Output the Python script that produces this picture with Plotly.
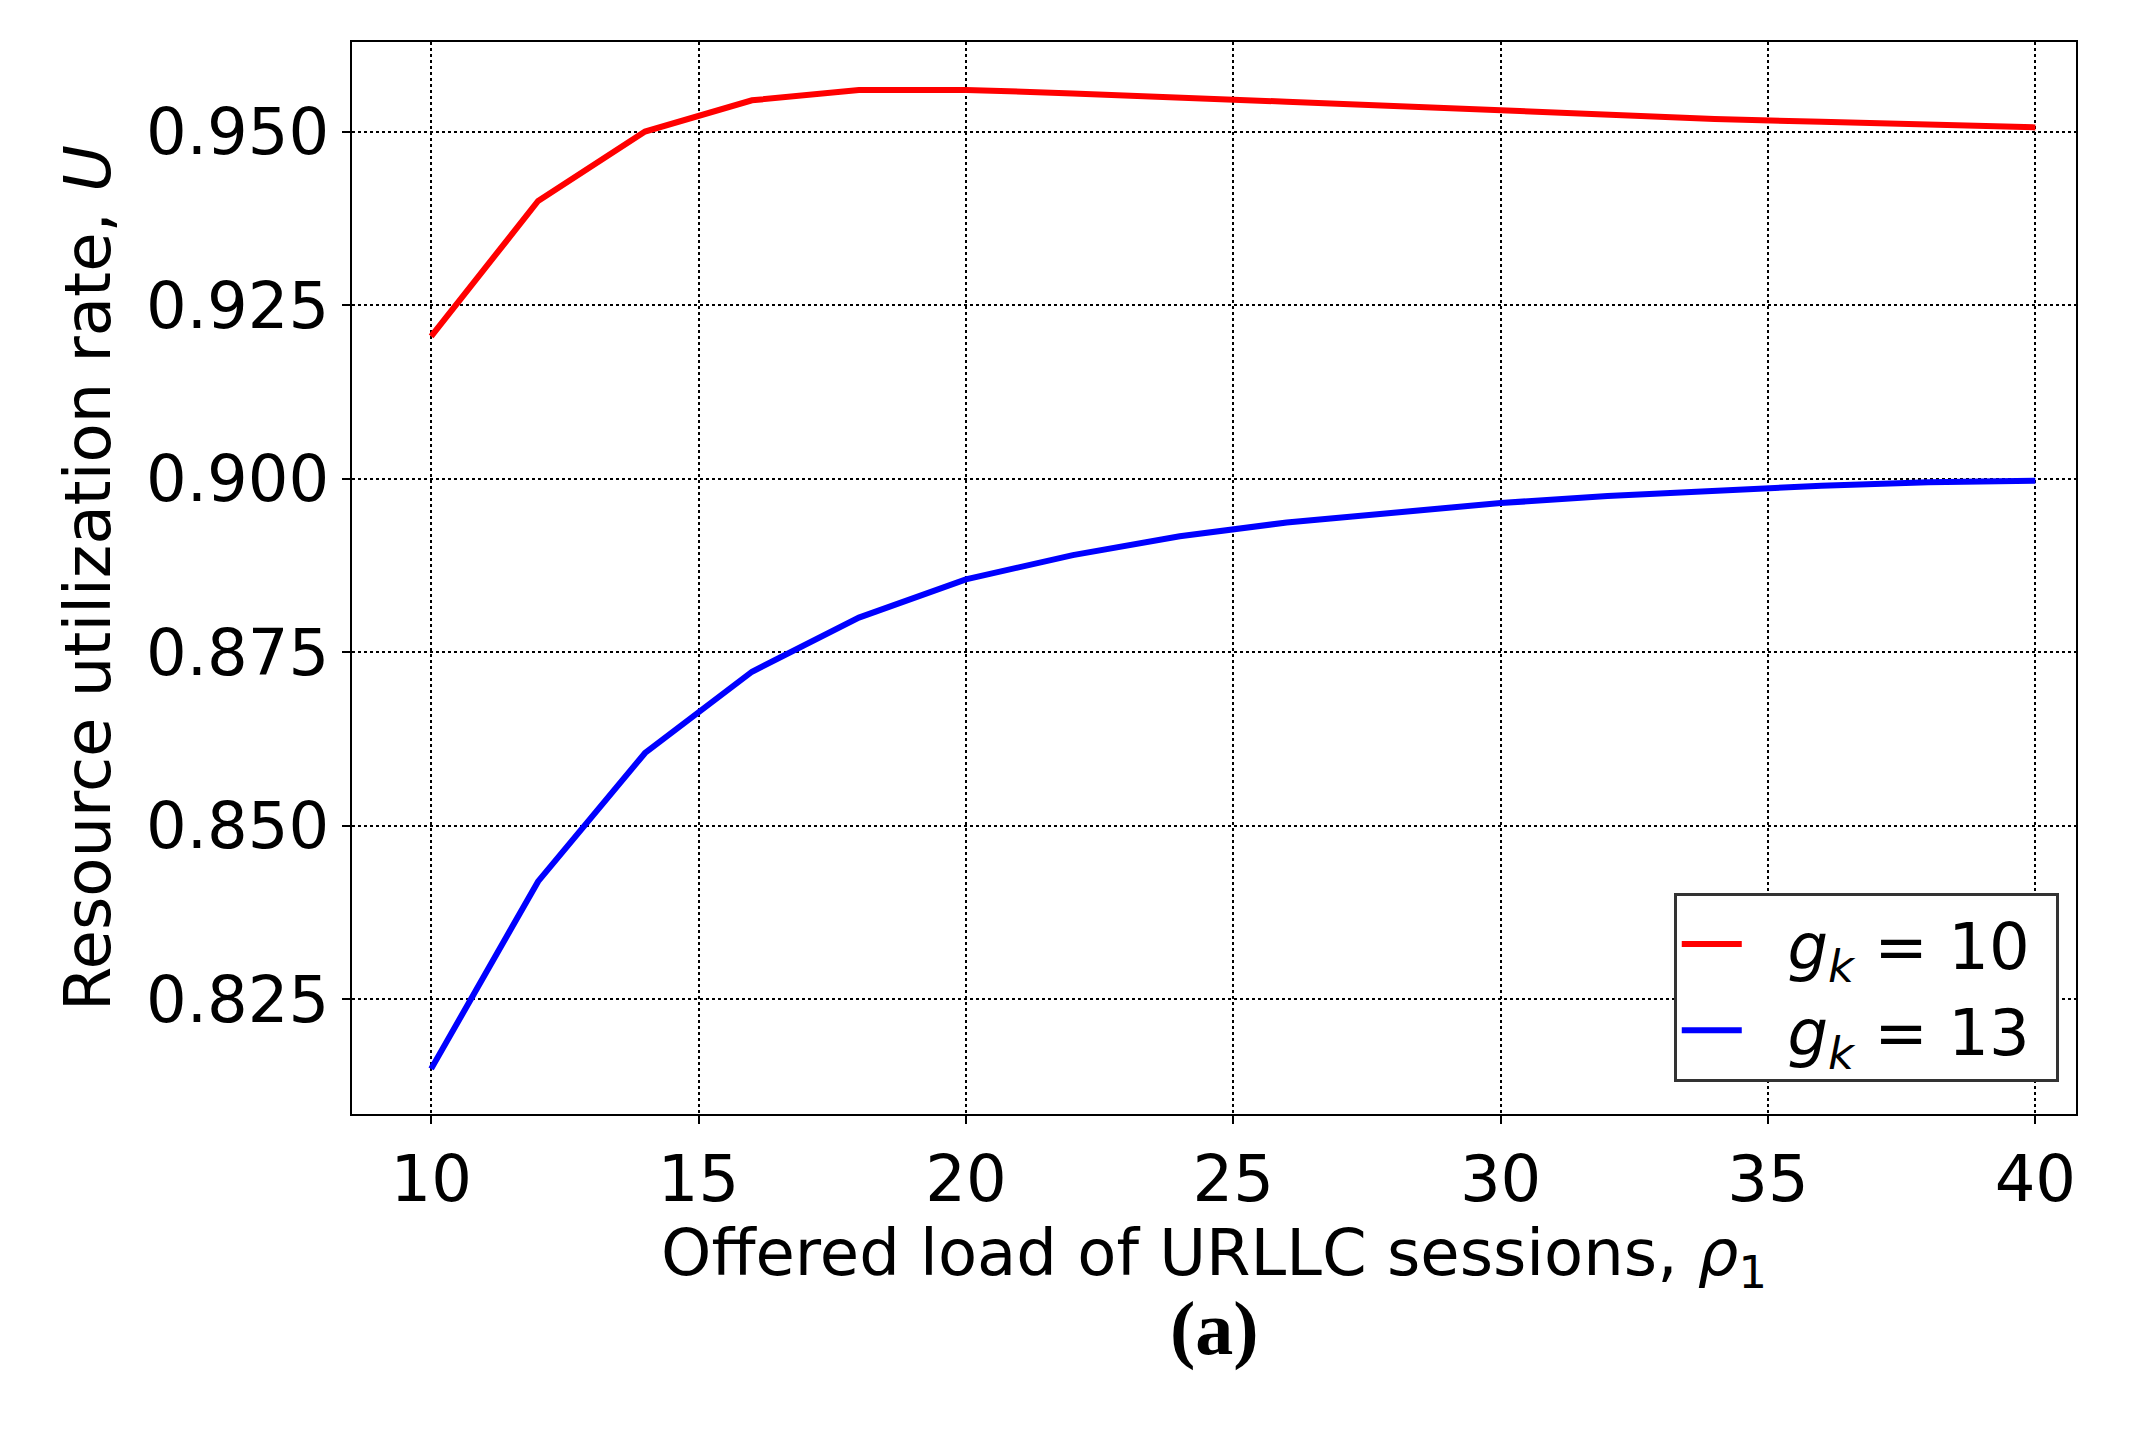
import plotly.graph_objects as go

x = [10, 12, 14, 16, 18, 20, 22, 24, 26, 28, 30, 32, 34, 36, 38, 40]
u_g10 = [0.9205, 0.940, 0.950, 0.9545, 0.956, 0.956, 0.9555, 0.955, 0.9543, 0.9537,
         0.953, 0.9523, 0.9518, 0.9514, 0.951, 0.9506]
u_g13 = [0.815, 0.842, 0.8605, 0.8722, 0.880, 0.8855, 0.889, 0.8917, 0.8937, 0.8952,
         0.8965, 0.8975, 0.8983, 0.899, 0.8995, 0.8997]
xticks = [10, 15, 20, 25, 30, 35, 40]
yticks = [0.825, 0.850, 0.875, 0.900, 0.925, 0.950]

fig = go.Figure()
fig.add_trace(go.Scatter(x=x, y=u_g10, mode="lines", line=dict(color="red", width=6),
                         name="  <i>g<sub>k</sub></i> = 10 "))
fig.add_trace(go.Scatter(x=x, y=u_g13, mode="lines", line=dict(color="blue", width=6),
                         name="  <i>g<sub>k</sub></i> = 13 "))

axis_common = dict(showline=True, mirror=True, linecolor="black", linewidth=2,
                   showgrid=True, gridcolor="black", griddash="dot", gridwidth=1.5,
                   ticks="outside", ticklen=8, tickwidth=2, tickcolor="black",
                   zeroline=False, tickfont=dict(size=64, color="black"))
fig.update_xaxes(range=[8.52, 40.76], tickvals=xticks, ticktext=[str(v) for v in xticks],
                 title=dict(text="Offered load of URLLC sessions, <i>ρ</i><sub>1</sub>",
                            font=dict(size=64, color="black"), standoff=12), **axis_common)
fig.update_yaxes(range=[0.8085, 0.9629], tickvals=yticks, ticktext=[f"{v:.3f}" for v in yticks],
                 title=dict(text="Resource utilization rate, <i>U</i>",
                            font=dict(size=64, color="black"), standoff=15), **axis_common)

fig.update_layout(
    width=2133, height=1455, paper_bgcolor="white", plot_bgcolor="white",
    font=dict(family="DejaVu Sans", color="black"),
    margin=dict(l=344, r=65, t=34, b=349),
    legend=dict(x=0.99, y=0.03, xanchor="right", yanchor="bottom",
                bgcolor="white", bordercolor="#333", borderwidth=3,
                itemwidth=60, tracegroupgap=10,
                font=dict(size=64, color="black")),
    showlegend=True,
    annotations=[dict(text="<b>(a)</b>", x=0.5, y=-0.2, xref="paper", yref="paper",
                      yanchor="middle", showarrow=False,
                      font=dict(family="Liberation Serif", size=76, color="black"))],
)
fig.write_html("out.html")
